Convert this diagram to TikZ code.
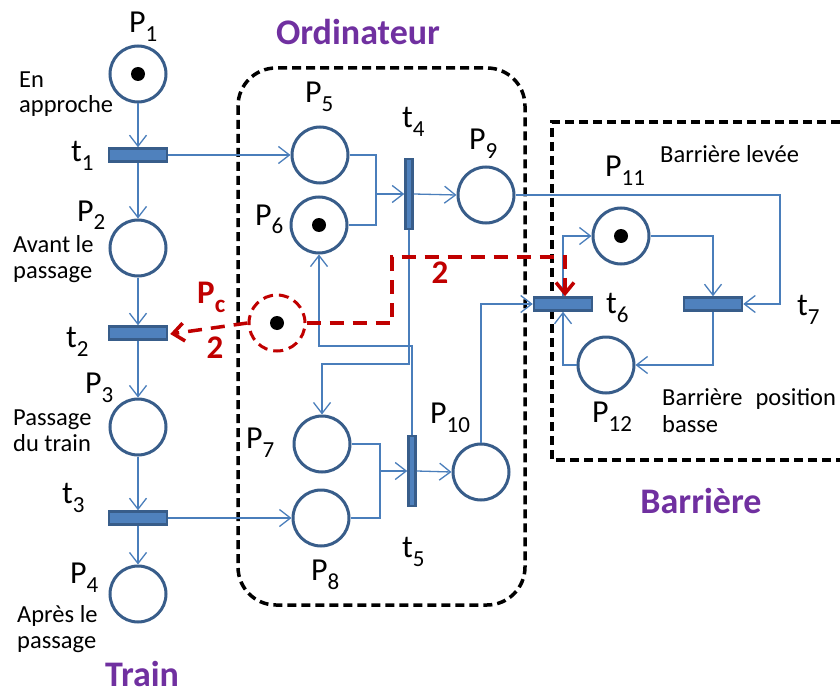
\documentclass[tikz,border=0pt]{standalone}
\usepackage{fontspec}
\setmainfont{Carlito}
\usetikzlibrary{arrows.meta,calc}
\definecolor{placeC}{RGB}{56,93,138}
\definecolor{arcC}{RGB}{74,126,187}
\definecolor{transF}{RGB}{79,129,189}
\definecolor{transD}{RGB}{56,93,138}
\definecolor{purpleC}{RGB}{112,48,160}
\definecolor{redC}{RGB}{192,0,0}
\newcommand\Lbl[2]{{\fontsize{32}{34}\selectfont #1}\raisebox{-9pt}{\fontsize{23}{25}\selectfont #2}}
\begin{document}
\begin{tikzpicture}[x=1pt,y=-1pt,
 place/.style={circle,draw=placeC,line width=3pt,minimum size=56pt,inner sep=0pt,fill=white},
 token/.style={path picture={\fill[black] (path picture bounding box.center) circle (7pt);}},
 htrans/.style={rectangle,draw=transD,fill=transF,line width=2.5pt,minimum width=58pt,minimum height=13pt,inner sep=0pt},
 vtrans/.style={rectangle,draw=transD,fill=transF,line width=2.5pt,minimum width=7pt,minimum height=70pt,inner sep=0pt},
 arc/.style={draw=arcC,line width=1.3pt,-{Straight Barb[length=11pt,width=17pt]}},
 plain/.style={draw=arcC,line width=1.3pt},
 reddash/.style={draw=redC,line width=3.5pt,dash pattern=on 14pt off 9pt},
 redarrow/.style={reddash,-{Straight Barb[length=11pt,width=18pt]}},
 boxdash/.style={draw=black,line width=3.5pt,dash pattern=on 9pt off 5pt},
 lab/.style={inner sep=0pt,anchor=base west},
 txt/.style={inner sep=0pt,anchor=base west,font=\fontsize{24.5}{26}\selectfont},
 title/.style={font=\fontsize{36}{40}\selectfont\bfseries,text=purpleC,inner sep=0pt,anchor=base},
 redtxt/.style={font=\fontsize{33}{36}\selectfont\bfseries,text=redC,inner sep=0pt},
]
\useasboundingbox (0,0) rectangle (840,695);

% group boxes
\draw[boxdash,rounded corners=38pt] (238,68) rectangle (525,605);
\draw[boxdash] (840,122) -- (552,122) -- (552,460) -- (840,460);

% Train
\node[place,token] (P1) at (138,74) {};
\node[htrans] (t1) at (138,155) {};
\node[place] (P2) at (138,248) {};
\node[htrans] (t2) at (138,333) {};
\node[place] (P3) at (138,427) {};
\node[htrans] (t3) at (138,518) {};
\node[place] (P4) at (138,594) {};

% Ordinateur
\node[place] (P5) at (320,155) {};
\node[place,token] (P6) at (319,225) {};
\node[vtrans] (t4) at (409,194) {};
\node[place] (P9) at (486,195) {};
\node[place] (P7) at (322,444) {};
\node[place] (P8) at (321,518) {};
\node[vtrans] (t5) at (412,471) {};
\node[place] (P10) at (481,472) {};
\node[place,token,draw=redC,dash pattern=on 10pt off 6pt] (Pc) at (277,323) {};

% Barriere
\node[place,token] (P11) at (621,236) {};
\node[place] (P12) at (606,365) {};
\node[htrans] (t6) at (563,304) {};
\node[htrans] (t7) at (713,304) {};

% helper coordinates
\coordinate (j4) at (376,194);
\coordinate (j5) at (380,471);
\coordinate (h1) at (0,346);
\coordinate (h2) at (0,364);
\coordinate (c7) at (780,0);
\coordinate (r1) at (392,257);
\coordinate (r2) at (565,257);

% train arcs
\draw[arc] (P1.south) -- (t1.north);
\draw[arc] (t1.south) -- (P2.north);
\draw[arc] (P2.south) -- (t2.north);
\draw[arc] (t2.south) -- (P3.north);
\draw[arc] (P3.south) -- (t3.north);
\draw[arc] (t3.south) -- (P4.north);
\draw[arc] (t1.east) -- (P5.west);
\draw[arc] (t3.east) -- (P8.west);

% ordinateur arcs
\draw[plain] (P6.east) -| (j4);
\draw[arc] (P5.east) -| (j4) -- (t4.west);
\draw[arc] (t4.east) -- (P9.west);
\draw[plain] (P8.east) -| (j5);
\draw[arc] (P7.east) -| (j5) -- (t5.west);
\draw[arc] (t5.east) -- (P10.west);
\draw[arc] (t4.south) |- (P7.north |- h2) -- (P7.north);
\draw[arc] (t5.north) |- (P6.south |- h1) -- (P6.south);
\draw[arc] (P10.north) |- (t6.west);
\draw[arc] (P9.east) -| (c7 |- t7.east) -- (t7.east);

% barriere arcs
\draw[arc] (t6.north) |- (P11.west);
\draw[arc] (P11.east) -| (t7.north);
\draw[arc] (t7.south) |- (P12.east);
\draw[arc] (P12.west) -| (t6.south);

% red dashed arcs
\draw[redarrow] (Pc.west) -- ($(t2.east)+(2,1)$);
\draw[redarrow] (Pc.east) -| (r1) -- (r2) -- (r2 |- t6.north);

% labels
\node[lab] (lP1) at (129,33) {\Lbl{P}{1}};
\node[lab] (lP2) at (77,221) {\Lbl{P}{2}};
\node[lab] (lP3) at (85,393) {\Lbl{P}{3}};
\node[lab] (lP4) at (70,583) {\Lbl{P}{4}};
\node[lab] (lt1) at (71,162) {\Lbl{t}{1}};
\node[lab] (lt2) at (66,347) {\Lbl{t}{2}};
\node[lab] (lt3) at (62,503) {\Lbl{t}{3}};
\node[lab] (lP5) at (305,103) {\Lbl{P}{5}};
\node[lab] (lP6) at (255,225) {\Lbl{P}{6}};
\node[lab] (lt4) at (402,128) {\Lbl{t}{4}};
\node[lab] (lP9) at (469,150) {\Lbl{P}{9}};
\node[lab] (lP7) at (246,448) {\Lbl{P}{7}};
\node[lab] (lP8) at (311,580) {\Lbl{P}{8}};
\node[lab] (lt5) at (402,557) {\Lbl{t}{5}};
\node[lab] (lP10) at (430,423) {\Lbl{P}{10}};
\node[lab] (lP11) at (605,177) {\Lbl{P}{11}};
\node[lab] (lt6) at (606,313) {\Lbl{t}{6}};
\node[lab] (lt7) at (797,315) {\Lbl{t}{7}};
\node[lab] (lP12) at (592,422) {\Lbl{P}{12}};

% descriptive texts
\node[txt] (d1a) at (19,88) {En};
\node[txt] (d1b) at (19,113) {approche};
\node[txt] (d2a) at (13,252) {Avant le};
\node[txt] (d2b) at (13,278) {passage};
\node[txt] (d3a) at (13,425) {Passage};
\node[txt] (d3b) at (13,451) {du train};
\node[txt] (d4a) at (17,622) {Après le};
\node[txt] (d4b) at (17,648) {passage};
\node[txt] (d11) at (660,163) {Barrière levée};
\node[txt] (d12a) at (662,405) {Barrière\hspace{13pt}position};
\node[txt] (d12b) at (662,432) {basse};

% titles
\node[title] (tiO) at (358,45) {Ordinateur};
\node[title] (tiT) at (142,686) {Train};
\node[title] (tiB) at (701,513) {Barrière};

% red labels
\node[redtxt,anchor=base west] (lPc) at (197,303) {P\raisebox{-9pt}{\fontsize{25}{26}\selectfont c}};
\node[redtxt,anchor=base] (w1) at (215,358) {2};
\node[redtxt,anchor=base] (w2) at (440,283) {2};
\end{tikzpicture}
\end{document}
